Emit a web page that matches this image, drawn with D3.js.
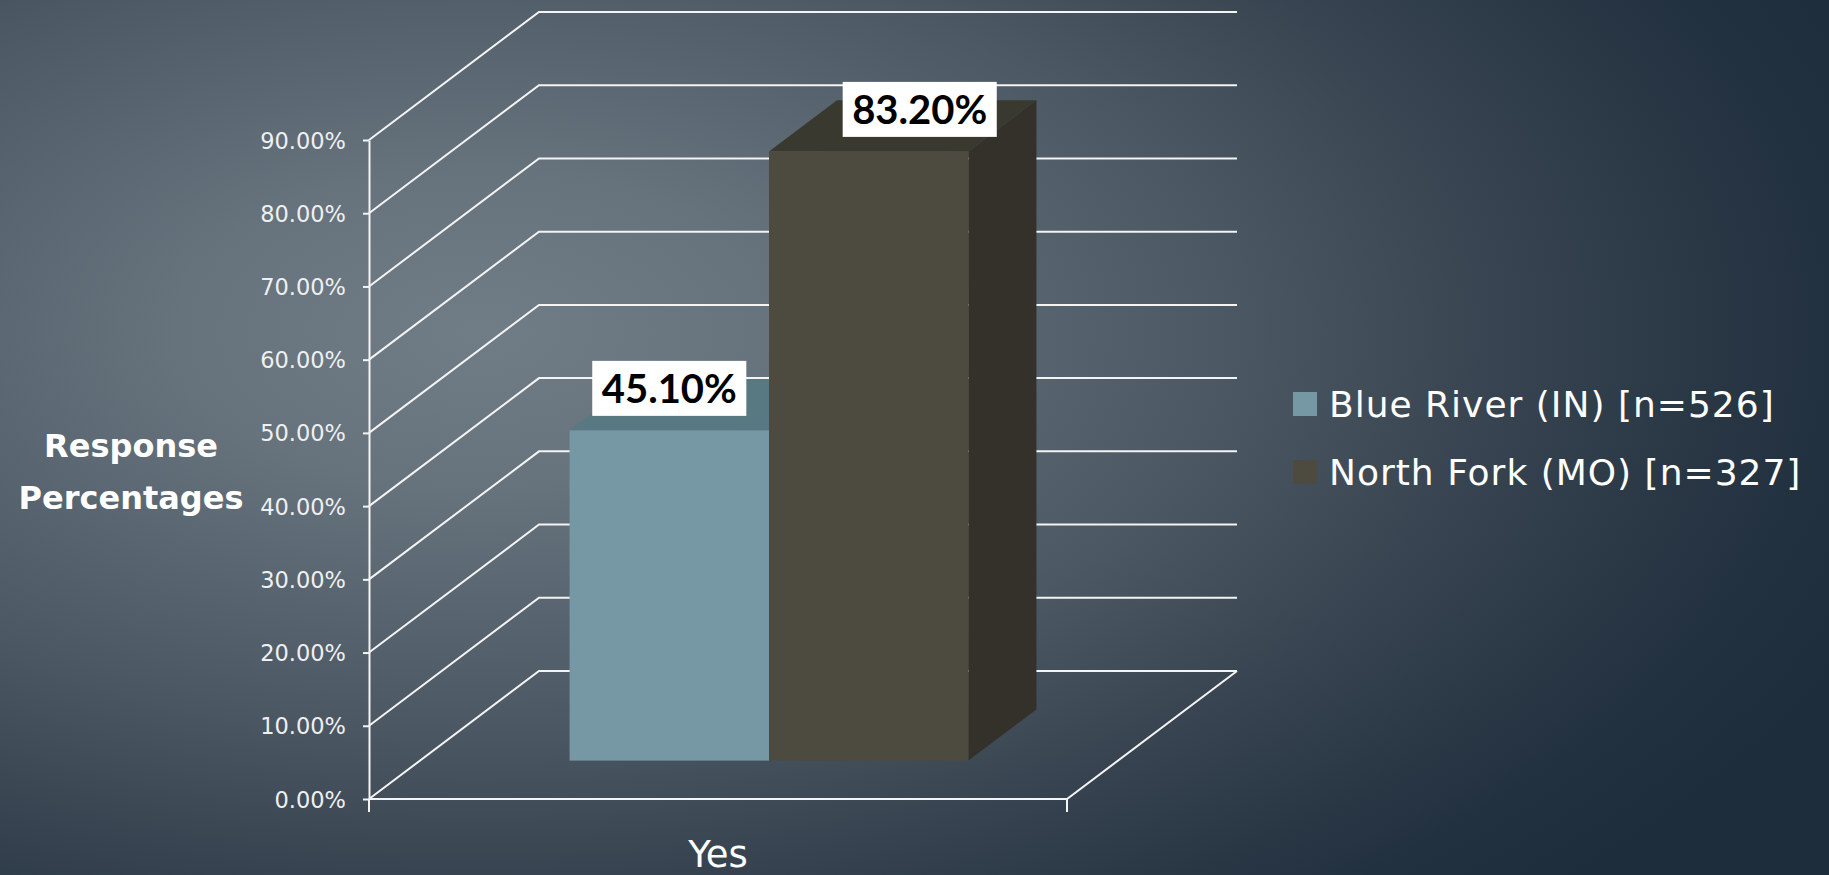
<!DOCTYPE html>
<html>
<head>
<meta charset="utf-8">
<script src="https://cdn.jsdelivr.net/npm/d3@7"></script>
<style>
  html, body { margin: 0; padding: 0; background: #2a3745; overflow: hidden; }
  svg { display: block; font-family: Lato, "Open Sans", sans-serif; }
</style>
</head>
<body>
<svg id="chart" width="1829" height="875"></svg>
<script>
// ---- data ----
const categories = ["Yes"];
const seriesNames = ["Blue River (IN) [n=526]", "North Fork (MO) [n=327]"];
const blueRiverValues = [45.1];
const northForkValues = [83.2];
const seriesValues = [blueRiverValues, northForkValues];
const yTickValues = [0, 10, 20, 30, 40, 50, 60, 70, 80, 90];
const yAxisTitle = ["Response", "Percentages"];

// ---- styling ----
const palette = [
  { front: "#7698a4", top: "#587981", side: "#4f6c73" },
  { front: "#4d4b3f", top: "#3a392f", side: "#33312a" }
];
const lineColor = "#f4f4f4";
const wideFont = "'DejaVu Sans', Verdana, sans-serif";
const labelFont = "Lato, 'Open Sans', sans-serif";

const W = 1829, H = 875;
const svg = d3.select("#chart");

// background wash
const defs = svg.append("defs");
const grad = defs.append("radialGradient")
  .attr("id", "bg")
  .attr("gradientUnits", "userSpaceOnUse")
  .attr("cx", 0).attr("cy", 0).attr("r", 1)
  .attr("gradientTransform", "translate(480,330) scale(1500,800)");
[[0, "#707c86"], [0.2, "#66727c"], [0.5, "#4b5762"], [0.76, "#2f3c49"], [0.9, "#223140"], [1, "#1e2d3c"]]
  .forEach(([o, c]) => grad.append("stop").attr("offset", o).attr("stop-color", c));
svg.append("rect").attr("width", W).attr("height", H).attr("fill", "url(#bg)");

// ---- scales & 3D projection ----
const frontLeft = 369, frontRight = 1067;
const DX = 170, DY = 128;           // full depth of the plot box
const z0 = 0.3, z1 = 0.7;           // depth slab occupied by the bars

const y = d3.scaleLinear().domain([0, 90]).range([799, 140]);
const x = d3.scaleBand().domain(categories).range([frontLeft, frontRight])
  .paddingInner(0).paddingOuter(0.375);
const xs = d3.scaleBand().domain(seriesNames).range([0, x.bandwidth()]).padding(0);

const P = (px, py, z) => [px + z * DX, py - z * DY];
const pts = arr => arr.map(p => p.join(",")).join(" ");

// ---- walls & gridlines ----
const grid = svg.append("g").attr("fill", "none").attr("stroke", lineColor).attr("stroke-width", 2);
yTickValues.forEach(v => {
  const a = [frontLeft, y(v)], b = P(frontLeft, y(v), 1), c = P(frontRight, y(v), 1);
  grid.append("polyline").attr("points", pts([a, b, c]));
});
// floor outline
grid.append("polyline").attr("points", pts([[frontLeft, y(0)], [frontRight, y(0)], P(frontRight, y(0), 1)]));
// end ticks along the category axis
[frontLeft, frontRight].forEach(px =>
  grid.append("line").attr("x1", px).attr("x2", px).attr("y1", y(0)).attr("y2", y(0) + 13));

// ---- value axis ----
const yAxis = d3.axisLeft(y)
  .tickValues(yTickValues)
  .tickFormat(d => d3.format(".2f")(d) + "%")
  .tickSize(6).tickSizeOuter(0).tickPadding(17);
const yAxisG = svg.append("g").attr("transform", `translate(${frontLeft},0)`).call(yAxis);
yAxisG.attr("font-family", null).attr("font-size", null);
yAxisG.select(".domain").attr("stroke", lineColor).attr("stroke-width", 2);
yAxisG.selectAll(".tick line").attr("stroke", lineColor).attr("stroke-width", 2);
yAxisG.selectAll(".tick text")
  .attr("fill", "#eef0f1")
  .style("font-family", wideFont).style("font-size", "22.5px")
  .attr("dy", "0.36em");

// axis title
const title = svg.append("text")
  .attr("text-anchor", "middle")
  .attr("fill", "#ffffff")
  .style("font-family", wideFont).style("font-weight", 700).style("font-size", "32px");
yAxisTitle.forEach((t, i) =>
  title.append("tspan").attr("x", 131).attr("y", 457 + i * 52).text(t));

// ---- bars ----
const bars = [];
categories.forEach((cat, ci) => {
  seriesNames.forEach((name, si) => {
    const v = seriesValues[si][ci];
    const xa = x(cat) + xs(name), xb = xa + xs.bandwidth();
    bars.push({ si, v, xa, xb });
  });
});
const barG = svg.append("g");
bars.forEach(b => {
  const c = palette[b.si];
  const g = barG.append("g");
  // right side
  g.append("polygon").attr("fill", c.side)
    .attr("points", pts([P(b.xb, y(b.v), z0), P(b.xb, y(b.v), z1), P(b.xb, y(0), z1), P(b.xb, y(0), z0)]));
  // top
  g.append("polygon").attr("fill", c.top)
    .attr("points", pts([P(b.xa, y(b.v), z0), P(b.xb, y(b.v), z0), P(b.xb, y(b.v), z1), P(b.xa, y(b.v), z1)]));
  // front
  const f0 = P(b.xa, y(b.v), z0), f1 = P(b.xb, y(0), z0);
  g.append("rect").attr("fill", c.front)
    .attr("x", f0[0]).attr("y", f0[1]).attr("width", f1[0] - f0[0]).attr("height", f1[1] - f0[1]);
});

// ---- value labels ----
const labelG = svg.append("g");
bars.forEach(b => {
  const top = P(b.xa, y(b.v), z0);
  const cx = (b.xa + b.xb) / 2 + z0 * DX + (b.si === 0 ? 0 : z0 * DX);
  const cy = top[1] - 42;
  const g = labelG.append("g");
  const rect = g.append("rect").attr("fill", "#ffffff");
  const t = g.append("text")
    .attr("x", cx).attr("y", cy).attr("dy", "0.36em")
    .attr("text-anchor", "middle").attr("fill", "#000000")
    .style("font-family", labelFont).style("font-weight", 700).style("font-size", "40px")
    .text(d3.format(".2f")(b.v) + "%");
  const bb = t.node().getBBox();
  const w = bb.width + 19, h = 55;
  rect.attr("x", cx - w / 2).attr("y", cy - h / 2).attr("width", w).attr("height", h);
});

// category label
svg.append("g").selectAll("text").data(categories).join("text")
  .attr("x", d => x(d) + x.bandwidth() / 2)
  .attr("y", 867)
  .attr("text-anchor", "middle")
  .attr("fill", "#ffffff")
  .style("font-family", wideFont).style("font-size", "37px")
  .text(d => d);

// ---- legend ----
const legend = svg.append("g").attr("transform", "translate(1293,392)");
seriesNames.forEach((name, i) => {
  const row = legend.append("g").attr("transform", `translate(0,${i * 68})`);
  row.append("rect").attr("width", 24).attr("height", 24).attr("fill", palette[i].front);
  row.append("text").attr("x", 36).attr("y", 25)
    .attr("fill", "#ffffff")
    .style("font-family", wideFont).style("font-size", "36px").style("letter-spacing", "1px")
    .text(name);
});
</script>
</body>
</html>
